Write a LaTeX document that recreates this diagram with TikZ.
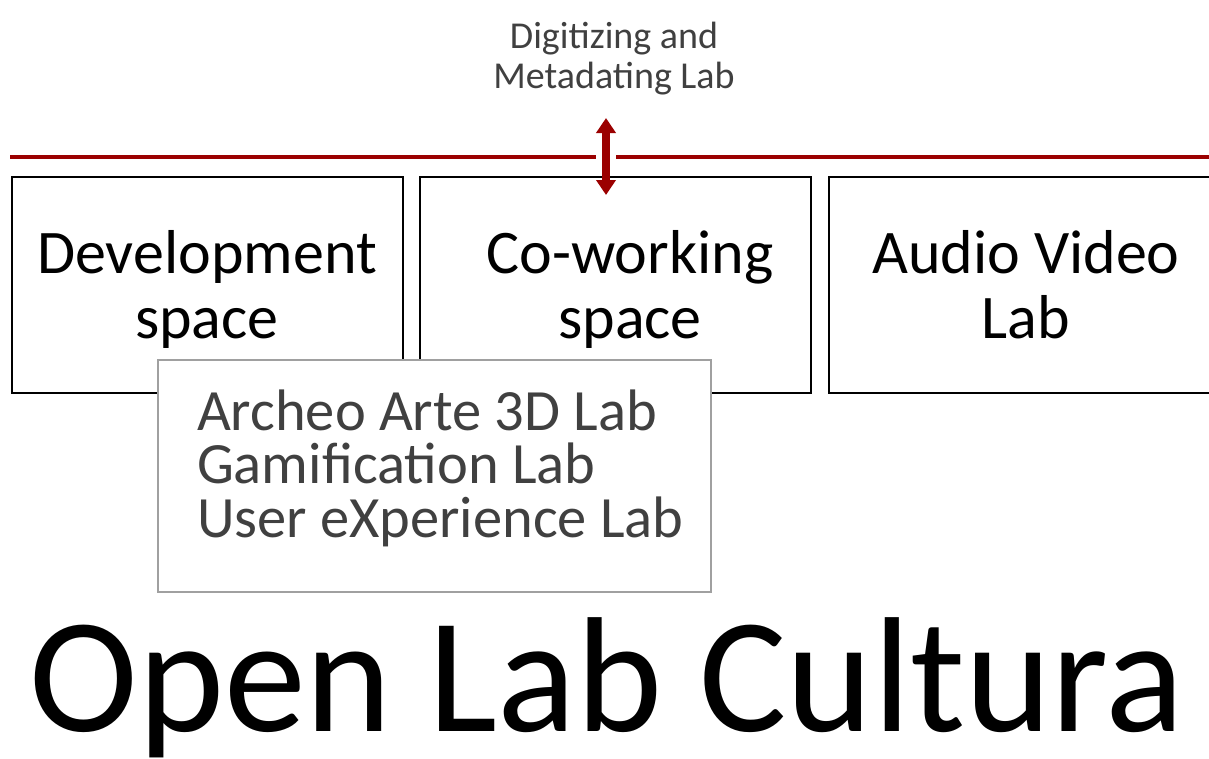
\documentclass[tikz,border=0pt]{standalone}
\usepackage{fontspec}
\setmainfont{Carlito}
\usepackage{tikz}
\usetikzlibrary{arrows.meta}
\definecolor{labred}{RGB}{155,0,0}
\definecolor{labgray}{RGB}{64,64,64}
\definecolor{boxgray}{RGB}{160,160,160}

\begin{document}
\begin{tikzpicture}[x=1pt,y=-1pt,
   every node/.style={outer sep=0,inner sep=0},
   spacebox/.style={draw=black,line width=2pt,minimum width=391pt,minimum height=216pt},
   spacetext/.style={anchor=base,align=center,font=\fontsize{62}{65}\selectfont},
   link/.style={labred,line width=8pt,
      {Triangle[width=19pt,length=15pt]}-{Triangle[width=19pt,length=15pt]}}]
   \useasboundingbox (0,0) rectangle (1209,758);

   % corridor line
   \draw[labred,line width=4pt] (10,157) -- (1220,157);

   \node[spacebox] (dev) at (207.5,285) {};
   \node[spacebox] (cowork) at (615.5,285) {};
   \node[spacebox] (av) at (1024,285) {};
   \node[spacetext] (devtext) at (207,338) {Development\\space};
   \node[spacetext] (coworktext) at (630,338) {Co-working\\space};
   \node[spacetext] (avtext) at (1026,338) {Audio Video\\Lab};

   \node[anchor=base,align=center,text=labgray,font=\fontsize{38}{40}\selectfont]
      (digit) at (614,88) {Digitizing and\\Metadating Lab};

   \coordinate (up) at (606,118);
   \coordinate (down) at (606,195);
   \draw[white,line width=5pt] (596,157) -- (616,157);
   \draw[link] (down) -- (up);

   \node[draw=boxgray,fill=white,line width=1.5pt,minimum width=553pt,minimum height=232pt]
      (labs) at (434.5,476) {};
   \node[anchor=base west,align=left,text=labgray,font=\fontsize{58.5}{53.5}\selectfont]
      (labstext) at (197,537) {Archeo Arte 3D Lab\\Gamification Lab\\User eXperience Lab};

   \node[anchor=base,font=\fontsize{164}{164}\selectfont] (title) at (607,731) {Open Lab Cultura};
\end{tikzpicture}
\end{document}
